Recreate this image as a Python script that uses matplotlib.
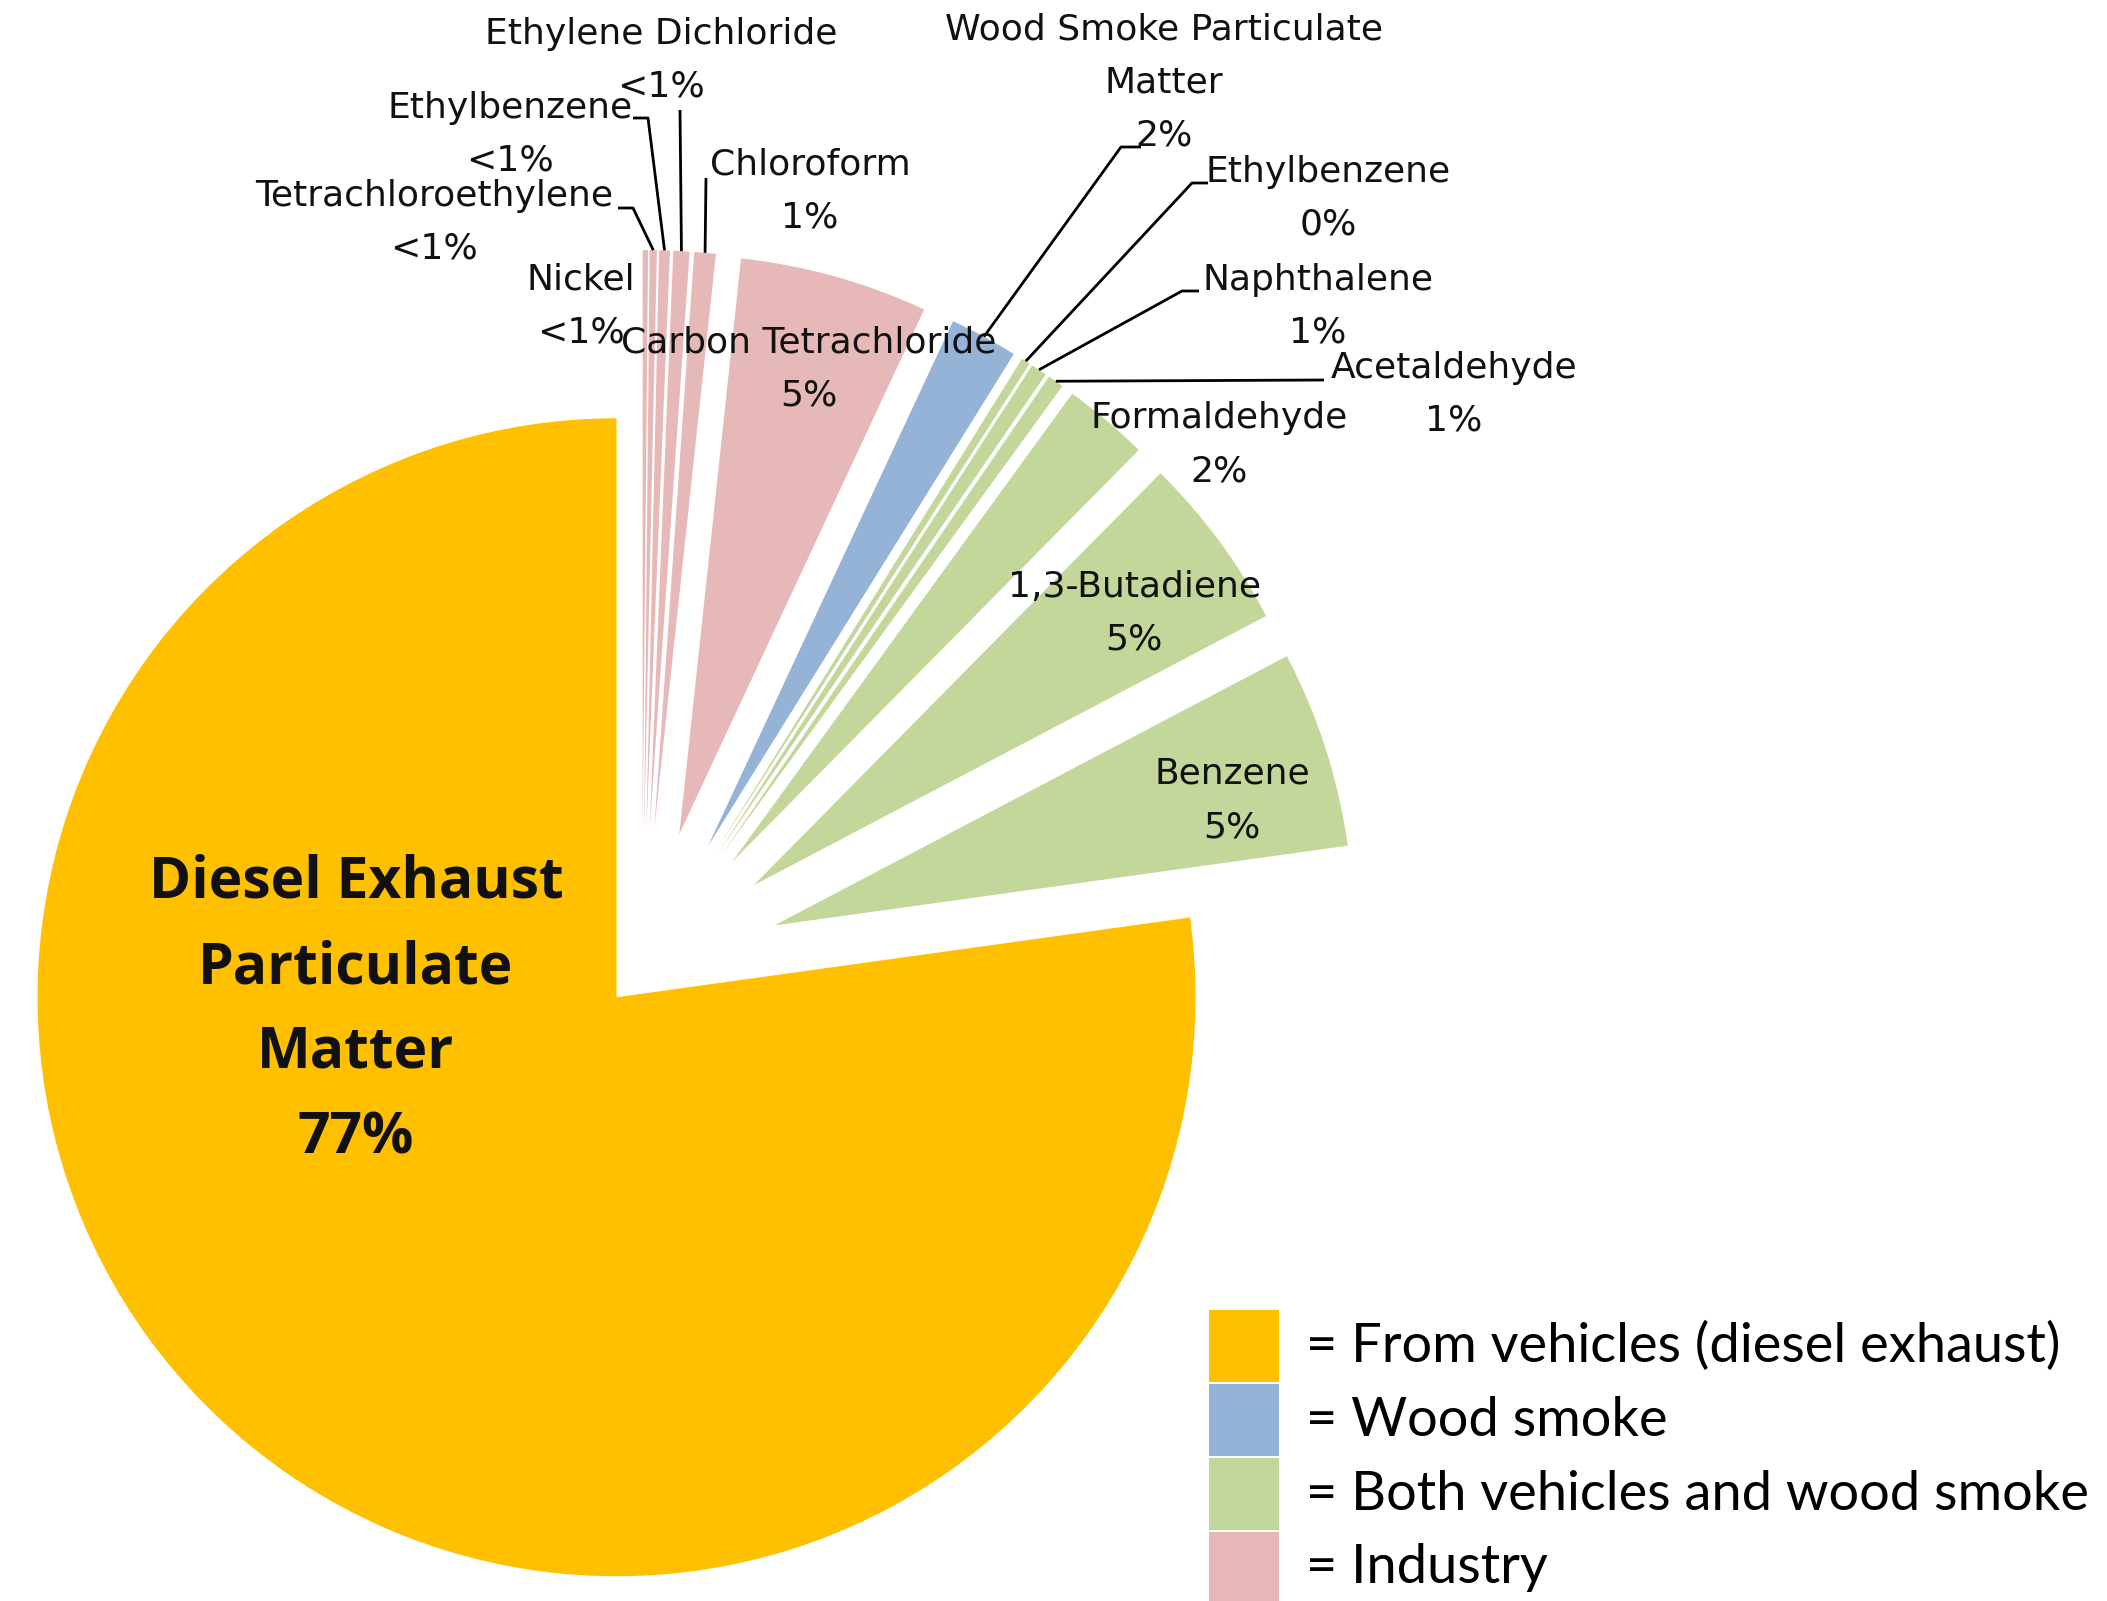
import matplotlib.pyplot as plt
import numpy as np
from matplotlib.patches import Rectangle

# pollutant shares (%), clockwise from 12 o'clock
names = ['Nickel', 'Tetrachloroethylene', 'Ethylbenzene', 'Ethylene Dichloride',
         'Chloroform', 'Carbon Tetrachloride', 'Wood Smoke Particulate\nMatter',
         'Ethylbenzene', 'Naphthalene', 'Acetaldehyde', 'Formaldehyde',
         '1,3-Butadiene', 'Benzene', 'Diesel Exhaust\nParticulate\nMatter']
shares = [0.15, 0.2, 0.3, 0.45, 0.6, 5.25, 1.9, 0.25, 0.45, 0.45, 2.4, 4.9, 5.5, 77.2]
pct_labels = ['<1%', '<1%', '<1%', '<1%', '1%', '5%', '2%',
              '0%', '1%', '1%', '2%', '5%', '5%', '77%']
sources = ['industry'] * 6 + ['wood'] + ['both'] * 6 + ['vehicles']

legend_keys = ['vehicles', 'wood', 'both', 'industry']
legend_labels = ['= From vehicles (diesel exhaust)', '= Wood smoke',
                 '= Both vehicles and wood smoke', '= Industry']
source_colors = {'vehicles': '#FFC000', 'wood': '#95B3D7',
                 'both': '#C4D79B', 'industry': '#E6B9B8'}

W, H = 2107, 1601
CX, CY, R = 642, 968, 579   # pie centre and radius in pixels


def px(x, y):
    # pixel position (from top-left) -> data coords
    return (x - CX) / R, (CY - y) / R


fig = plt.figure(figsize=(W / 100, H / 100), dpi=100)
ax = fig.add_axes([0, 0, 1, 1])

explode = [0.067 if s == 'vehicles' else 0.24 for s in sources]
wedges, _ = ax.pie(shares, colors=[source_colors[s] for s in sources],
                   startangle=90, counterclock=False, explode=explode,
                   wedgeprops=dict(linewidth=0))
ax.set_xlim(-CX / R, (W - CX) / R)
ax.set_ylim((CY - H) / R, CY / R)
ax.axis('off')

# label anchor (centre x, first line centre y) in pixels
label_pos = [(581, 280), (434, 196), (510, 108), (661, 34), (810, 165),
             (809, 343), (1164, 30), (1328, 172), (1318, 280), (1454, 368),
             (1219, 418), (1134, 587), (1232, 774), (356, 883)]

for i, (name, pct) in enumerate(zip(names, pct_labels)):
    lines = name.split('\n') + [pct]
    x0, y0 = label_pos[i]
    if sources[i] == 'vehicles':
        step, font = 85, dict(family='Open Sans', fontsize=41, fontweight='bold')
    else:
        step, font = 53, dict(family='DejaVu Sans', fontsize=26)
    for k, line in enumerate(lines):
        ax.text(*px(x0, y0 + k * step), line, ha='center', va='center',
                color='#111111', **font)

# leader lines: elbow points in pixels, ending on the wedge's outer arc
leaders = {1: [(633, 208), (618, 208)],
           2: [(648, 118), (633, 118)],
           3: [(680, 110)],
           4: [(706, 178)],
           6: [(1121, 147), (1141, 147)],
           7: [(1192, 183), (1208, 183)],
           8: [(1182, 291), (1199, 291)],
           9: [(1324, 380)]}
for i, pts in leaders.items():
    w = wedges[i]
    mid = np.deg2rad((w.theta1 + w.theta2) / 2)
    start = (w.center[0] + w.r * np.cos(mid), w.center[1] + w.r * np.sin(mid))
    path = [start] + [px(x, y) for x, y in pts]
    xs, ys = zip(*path)
    ax.plot(xs, ys, color='black', lw=2, solid_capstyle='butt')

# colour key
for k, (key, text) in enumerate(zip(legend_keys, legend_labels)):
    top = 1310 + k * 74
    x0, y0 = px(1209, top + 72)
    ax.add_patch(Rectangle((x0, y0), 70 / R, 72 / R,
                           facecolor=source_colors[key], edgecolor='none'))
    ax.text(*px(1306, top + 36), text, ha='left', va='center',
            family='Lato', fontsize=39, color='black')

fig.savefig('out.png', dpi=100)
